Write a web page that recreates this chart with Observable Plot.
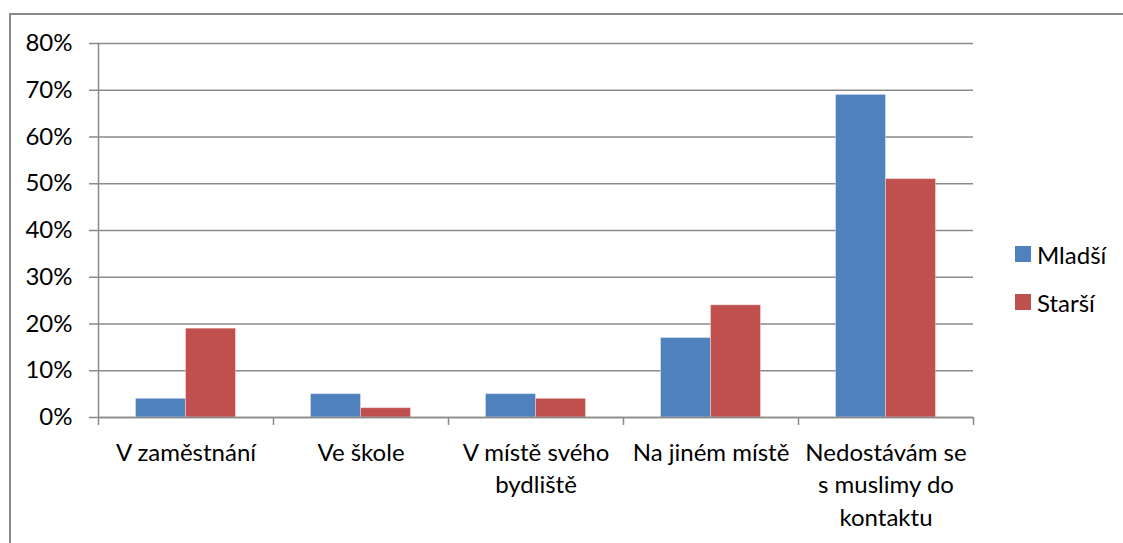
<!DOCTYPE html>
<html>
<head>
<meta charset="utf-8">
<script src="https://cdn.jsdelivr.net/npm/d3@7"></script>
<script src="https://cdn.jsdelivr.net/npm/@observablehq/plot@0.6"></script>
<style>
  html, body { margin: 0; padding: 0; background: #fff; overflow: hidden; }
  #wrap { position: relative; width: 1123px; height: 543px; font-family: Lato, sans-serif; }
  #border { position: absolute; left: 9px; top: 13px; width: 1300px; height: 700px; border: 2px solid #8a8a8a; box-sizing: border-box; }
  #legend { position: absolute; left: 1015px; top: 242px; font-size: 24px; color: #000; }
  .item { display: flex; align-items: center; height: 24px; margin-bottom: 24px; }
  .sw { width: 16px; height: 16px; margin-right: 6px; }
</style>
</head>
<body>
<div id="wrap">
  <div id="border"></div>
  <div id="chart"></div>
  <div id="legend"></div>
</div>
<script>
const categories = ["V zaměstnání", "Ve škole", "V místě svého bydliště", "Na jiném místě", "Nedostávám se s muslimy do kontaktu"];
const categoryLabels = ["V zaměstnání", "Ve škole", "V místě svého\nbydliště", "Na jiném místě", "Nedostávám se\ns muslimy do\nkontaktu"];
const seriesNames = ["Mladší", "Starší"];
const seriesColors = ["#4F81BD", "#C0504D"];
const mladsi = [4, 5, 5, 17, 69];
const starsi = [19, 2, 4, 24, 51];
const yTicks = [0, 10, 20, 30, 40, 50, 60, 70, 80];

const data = categories.flatMap((c, i) => [
  {category: c, series: seriesNames[0], value: mladsi[i]},
  {category: c, series: seriesNames[1], value: starsi[i]}
]);
const labelOf = new Map(categories.map((c, i) => [c, categoryLabels[i]]));
const gray = "#8a8a8a";
const FS = 24;

const chart = Plot.plot({
  width: 1123,
  height: 543,
  marginLeft: 98,
  marginRight: 150,
  marginTop: 43,
  marginBottom: 126,
  style: {fontFamily: "Lato, sans-serif", fontSize: FS + "px", color: "#000", background: "transparent"},
  x: {domain: categories, padding: 0, label: null},
  y: {domain: [0, 80], label: null},
  marks: [
    Plot.gridY(yTicks, {stroke: gray, strokeOpacity: 1, strokeWidth: 1.5}),
    Plot.axisY(yTicks, {tickSize: 9, tickPadding: 17, tickFormat: d => d + "%", stroke: gray, strokeWidth: 1.5, fill: "#000", fontSize: FS}),
    Plot.barY(data.filter(d => d.series === seriesNames[0]), {x: "category", y: "value", fill: seriesColors[0], insetLeft: 37.5, insetRight: 87.5, stroke: "#fff", strokeOpacity: 0.35, strokeWidth: 1}),
    Plot.barY(data.filter(d => d.series === seriesNames[1]), {x: "category", y: "value", fill: seriesColors[1], insetLeft: 87.5, insetRight: 37.5, stroke: "#fff", strokeOpacity: 0.35, strokeWidth: 1}),
    Plot.ruleY([0], {stroke: gray, strokeWidth: 1.5}),
    Plot.ruleX([categories[0]], {dx: -87.5, stroke: gray, strokeWidth: 1.5}),
    Plot.axisX(categories, {tickSize: 8, tickFormat: () => "", dx: -87.5, stroke: gray, strokeWidth: 1.5}),
    Plot.axisX([categories[categories.length - 1]], {tickSize: 8, tickFormat: () => "", dx: 87.5, stroke: gray, strokeWidth: 1.5}),
    Plot.axisX(categories, {tickSize: 0, tickPadding: 20, tickFormat: d => labelOf.get(d), fill: "#000", fontSize: FS, lineHeight: 1.36})
  ]
});
document.getElementById("chart").appendChild(chart);

const legend = document.getElementById("legend");
seriesNames.forEach((s, i) => {
  const item = document.createElement("div");
  item.className = "item";
  item.innerHTML = `<div class="sw" style="background:${seriesColors[i]}"></div><span>${s}</span>`;
  legend.appendChild(item);
});
</script>
</body>
</html>
